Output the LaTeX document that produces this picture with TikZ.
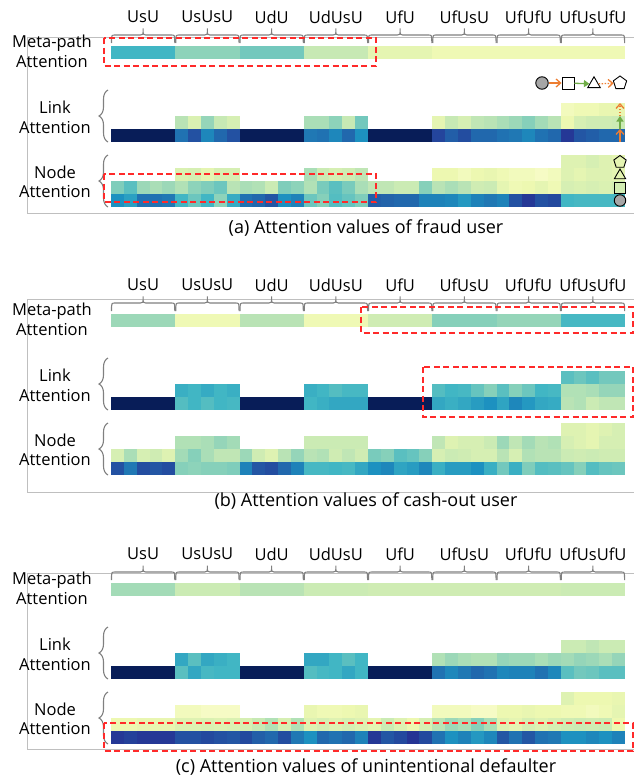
\documentclass[tikz,border=0pt]{standalone}
\usepackage{fontspec}
\setmainfont{Open Sans}
\usetikzlibrary{shapes.geometric, arrows.meta, positioning, calc, decorations.pathreplacing}

\definecolor{yg0}{HTML}{FFFFD9}
\definecolor{yg1}{HTML}{EDF8B1}
\definecolor{yg2}{HTML}{C7E9B4}
\definecolor{yg3}{HTML}{7FCDBB}
\definecolor{yg4}{HTML}{41B6C4}
\definecolor{yg5}{HTML}{1D91C0}
\definecolor{yg6}{HTML}{225EA8}
\definecolor{yg7}{HTML}{253494}
\definecolor{yg8}{HTML}{081D58}
\definecolor{legorange}{HTML}{ED7D31}
\definecolor{leggreen}{HTML}{70AD47}
\definecolor{focusred}{HTML}{FF2A2A}

\newcommand{\heatcell}[4]{%
  \pgfmathsetmacro\cellk{int(floor(#4))}%
  \pgfmathsetmacro\cellkk{int(min(\cellk+1,8))}%
  \pgfmathsetmacro\cellp{int(round(100*(1-#4+\cellk)))}%
  \path[fill={yg\cellk!\cellp!yg\cellkk}] (#1,#2) rectangle ++(#3,13);
}
\newcommand{\heatgroup}[3]{%
  \foreach \cellrow [count=\rowi from 0] in {#3} {
    \foreach \cellv [count=\coli from 0] in \cellrow {
      \heatcell{111+#1*64.25+\coli*12.85}{#2-\rowi*13}{12.95}{\cellv}
    }
  }
}
\newcommand{\metabar}[1]{%
  \foreach \cellv [count=\gi from 0] in {#1} {
    \heatcell{111+\gi*64.25}{46}{64.3}{\cellv}
  }
}
\newcommand{\panelframe}[1]{%
  \foreach \lab [count=\gi from 0] in {UsU,UsUsU,UdU,UdUsU,UfU,UfUsU,UfUfU,UfUsUfU} {
    \node[collabel] (#1-col\gi) at (143.1+\gi*64.25,17) {\lab};
    \draw[tickbrace] (111.5+\gi*64.25,43) .. controls (111.5+\gi*64.25,35) .. (115+\gi*64.25,35)
      -- (140.5+\gi*64.25,35) .. controls (143.1+\gi*64.25,35) .. (143.1+\gi*64.25,28.5)
      .. controls (143.1+\gi*64.25,35) .. (145.7+\gi*64.25,35)
      -- (171.3+\gi*64.25,35) .. controls (174.8+\gi*64.25,35) .. (174.8+\gi*64.25,43);
  }
  \node[rowlabel] (#1-meta) at (52,51.5) {Meta-path\\Attention};
  \node[rowlabel] (#1-link) at (55,117.5) {Link\\Attention};
  \node[rowlabel] (#1-node) at (55,182) {Node\\Attention};
  \draw[sidebrace] (108,142) -- (108,90);
  \draw[sidebrace] (108,207) -- (108,155);
}

\begin{document}
\begin{tikzpicture}[
    x=1pt, y=-1pt,
    >={Stealth},
    collabel/.style={inner sep=0pt, font=\fontsize{16.5}{19.5}\selectfont},
    rowlabel/.style={inner sep=0pt, align=center, font=\fontsize{16.5}{19.5}\selectfont},
    caption/.style={inner sep=0pt, font=\fontsize{18}{21}\selectfont},
    frameline/.style={draw=black!25, line width=0.8pt},
    tickbrace/.style={draw=black!50, line width=1.1pt},
    sidebrace/.style={draw=black!50, line width=1.1pt, decorate, decoration={brace, amplitude=9pt, aspect=0.5}},
    focus/.style={draw=focusred, line width=1.2pt, dash pattern=on 6pt off 3.5pt},
    legsym/.style={draw=black, line width=0.9pt, inner sep=0pt},
    legcirc/.style={legsym, circle, fill=black!35, minimum size=12.5pt},
    legsq/.style={legsym, rectangle, minimum size=12pt},
    legtri/.style={legsym, regular polygon, regular polygon sides=3, minimum size=14.5pt},
    legpent/.style={legsym, regular polygon, regular polygon sides=5, minimum size=14pt},
    orangearrow/.style={-{Straight Barb[length=4.5pt,width=8pt]}, line width=1.3pt, legorange},
    greenarrow/.style={-{Triangle[length=5.5pt,width=7pt]}, line width=1.3pt, leggreen},
    dottedarrow/.style={orangearrow, dash pattern=on 1.5pt off 1.5pt}
  ]
  \useasboundingbox (0,0) rectangle (634,779);

  \begin{scope}
    \draw[frameline] (634,37) -- (27,37) -- (27,213) -- (634,213);
    \panelframe{a}
    \metabar{4.0,2.8,3.2,2.0,1.2,0.9,0.9,0.9}
    \heatgroup{0}{129}{{8,8,8,8,8}}
    \heatgroup{1}{129}{{5.6,6.3,5.2,5.8,6.3},{2.2,1.5,2.7,2.0,1.6}}
    \heatgroup{2}{129}{{8,8,8,8,8}}
    \heatgroup{3}{129}{{5.5,5.6,5.2,5.8,5.0},{2.4,2.4,2.8,2.0,3.2}}
    \heatgroup{4}{129}{{8,8,8,8,8}}
    \heatgroup{5}{129}{{6.6,6.0,6.4,5.8,5.8},{1.2,2.0,1.6,2.1,2.2}}
    \heatgroup{6}{129}{{5.6,5.5,5.2,5.6,5.8},{2.4,2.6,2.9,2.5,2.2}}
    \heatgroup{7}{129}{{6.9,6.2,6.0,5.8,5.8},{1.0,1.6,1.8,1.8,1.9},{0.7,0.9,0.9,1.1,1.1}}
    \heatgroup{0}{194}{{5.0,4.6,5.6,5.6,5.5},{3.0,3.6,2.6,2.4,2.6}}
    \heatgroup{1}{194}{{4.0,3.3,4.0,2.8,4.3},{2.3,2.8,3.0,3.3,2.2},{1.5,1.6,1.2,1.6,1.6}}
    \heatgroup{2}{194}{{5.6,5.8,6.2,5.0,5.3},{2.4,2.3,1.9,3.0,2.8}}
    \heatgroup{3}{194}{{3.3,2.9,3.7,3.4,3.0},{2.3,3.1,3.6,3.1,2.4},{2.4,1.9,1.6,1.8,2.1}}
    \heatgroup{4}{194}{{6.0,5.9,5.8,5.8,5.3},{2.1,2.1,1.9,1.9,2.9}}
    \heatgroup{5}{194}{{5.3,5.2,4.8,5.3,5.5},{2.2,2.4,2.2,1.8,1.9},{1.0,1.0,0.7,1.0,1.1}}
    \heatgroup{6}{194}{{5.3,6.3,6.9,6.3,6.5},{1.2,0.9,1.0,1.2,0.9},{0.9,0.7,0.7,0.5,0.7}}
    \heatgroup{7}{194}{{4.0,3.9,3.9,3.9,3.9},{1.6,1.5,1.6,1.5,1.7},{1.4,1.2,1.4,1.4,1.2},{1.4,1.4,1.6,1.4,1.2}}
    \draw[focus] (104,38) rectangle (376,66);
    \draw[focus] (104,174) rectangle (376,202);
    \node[legcirc] (legc) at (542,83) {};
    \node[legsq] (legs) at (568,83) {};
    \node[legtri] (legt) at (594,84) {};
    \node[legpent] (legp) at (620,83) {};
    \draw[orangearrow] (legc) -- (legs);
    \draw[greenarrow] (legs) -- (legt);
    \draw[dottedarrow] (legt) -- (legp);
    \coordinate (arr0) at (620,142);
    \coordinate (arr1) at (620,129);
    \coordinate (arr2) at (620,116);
    \coordinate (arr3) at (620,103);
    \draw[orangearrow] (arr0) -- (arr1);
    \draw[greenarrow] (arr1) -- (arr2);
    \draw[dottedarrow] (arr2) -- (arr3);
    \node[legcirc, minimum size=11.5pt] (symc) at (620,200.5) {};
    \node[legsq, minimum size=11pt] (syms) at (620,187.5) {};
    \node[legtri, minimum size=13pt] (symt) at (620,175.5) {};
    \node[legpent, minimum size=13pt] (symp) at (620,162) {};
    \node[caption] (capa) at (366,228) {(a) Attention values of fraud user};
  \end{scope}

  \begin{scope}[shift={(0,268)}]
    \draw[frameline] (634,31) -- (27,31) -- (27,224) -- (634,224);
    \panelframe{b}
    \metabar{2.6,0.9,2.2,0.9,1.8,2.9,2.7,3.9}
    \heatgroup{0}{129}{{8,8,8,8,8}}
    \heatgroup{1}{129}{{3.7,4.0,3.7,4.0,3.9},{4.2,4.0,4.3,4.0,4.2}}
    \heatgroup{2}{129}{{8,8,8,8,8}}
    \heatgroup{3}{129}{{4.0,4.2,4.4,4.4,4.4},{4.2,4.0,3.7,3.9,3.9}}
    \heatgroup{4}{129}{{8,8,8,8,8}}
    \heatgroup{5}{129}{{4.4,4.2,4.4,4.7,5.0},{3.7,4.0,3.9,3.4,2.9}}
    \heatgroup{6}{129}{{4.5,5.2,4.8,4.4,4.3},{3.6,2.9,3.3,4.0,3.9}}
    \heatgroup{7}{129}{{2.2,2.3,1.9,2.1,2.1},{2.3,2.3,2.4,2.7,2.7},{3.6,3.3,3.6,3.2,3.2}}
    \heatgroup{0}{194}{{6.3,5.5,6.4,6.2,6.4},{1.6,2.4,1.6,1.8,1.4}}
    \heatgroup{1}{194}{{2.9,2.8,2.9,2.9,3.0},{2.5,2.9,2.4,2.1,2.1},{2.3,2.3,2.4,2.7,2.5}}
    \heatgroup{2}{194}{{5.3,6.2,6.4,5.8,5.3},{2.6,1.8,1.4,2.2,2.7}}
    \heatgroup{3}{194}{{3.9,3.9,4.0,3.9,4.4},{2.2,2.3,1.8,2.1,1.8},{1.9,1.9,1.9,1.9,1.9}}
    \heatgroup{4}{194}{{5.0,5.2,4.5,4.7,5.2},{3.1,2.9,3.6,3.4,2.9}}
    \heatgroup{5}{194}{{4.2,4.7,4.7,5.0,4.2},{1.6,1.9,1.8,1.6,1.6},{2.1,1.4,1.6,1.6,1.9}}
    \heatgroup{6}{194}{{3.2,4.2,3.0,3.7,3.6},{2.2,1.6,2.3,2.2,2.2},{2.6,2.1,2.5,2.2,2.3}}
    \heatgroup{7}{194}{{3.4,2.9,3.7,3.4,3.3},{1.9,1.8,1.9,1.8,1.8},{1.6,1.4,1.2,1.6,1.6},{1.4,1.4,1.2,1.4,1.6}}
    \draw[focus] (361,39) rectangle (633,65);
    \draw[focus] (423,99) rectangle (633,149);
    \node[caption] (capb) at (366,233) {(b) Attention values of cash-out user};
  \end{scope}

  \begin{scope}[shift={(0,537)}]
    \draw[frameline] (634,36) -- (27,36) -- (27,212) -- (634,212);
    \panelframe{c}
    \metabar{2.5,1.9,2.2,1.9,1.8,1.8,1.8,1.9}
    \heatgroup{0}{129}{{8,8,8,8,8}}
    \heatgroup{1}{129}{{3.6,4.4,3.9,4.0,4.0},{4.4,3.6,4.4,4.2,4.0}}
    \heatgroup{2}{129}{{8,8,8,8,8}}
    \heatgroup{3}{129}{{3.7,3.9,4.0,4.4,4.0},{4.4,4.4,4.0,3.6,4.0}}
    \heatgroup{4}{129}{{8,8,8,8,8}}
    \heatgroup{5}{129}{{5.6,5.2,5.5,5.8,5.6},{2.3,2.6,2.4,2.3,2.3}}
    \heatgroup{6}{129}{{5.2,5.3,5.3,5.6,5.2},{2.7,2.6,2.6,2.4,2.6}}
    \heatgroup{7}{129}{{3.6,3.2,3.3,3.6,3.6},{2.5,2.7,2.6,2.4,2.7},{1.9,1.9,2.1,1.9,1.9}}
    \heatgroup{0}{194}{{6.9,6.7,6.9,6.9,6.9},{1.0,1.0,1.1,1.1,1.1}}
    \heatgroup{1}{194}{{6.3,6.3,6.5,6.3,6.2},{1.4,1.4,1.5,1.4,1.5},{0.7,0.7,0.5,0.5,0.5}}
    \heatgroup{2}{194}{{6.5,6.0,5.8,6.4,5.5},{1.6,2.0,2.3,1.6,2.3}}
    \heatgroup{3}{194}{{5.0,5.8,5.6,5.8,5.3},{1.4,1.6,1.4,1.6,1.4},{1.1,0.9,0.9,1.0,1.1}}
    \heatgroup{4}{194}{{6.9,6.2,6.5,7.0,6.5},{1.2,1.9,1.4,1.0,1.6}}
    \heatgroup{5}{194}{{5.6,5.0,5.3,4.8,5.2},{2.2,2.6,2.4,2.9,2.4},{0.7,0.7,0.7,0.5,0.5}}
    \heatgroup{6}{194}{{6.2,5.6,6.2,5.6,5.5},{1.4,1.2,1.6,1.4,1.6},{1.0,1.0,1.1,1.0,1.0}}
    \heatgroup{7}{194}{{5.0,5.0,5.2,5.0,5.3},{1.8,1.9,1.8,1.9,1.0},{0.9,0.9,0.7,0.9,1.2},{1.4,1.0,1.0,1.0,1.1}}
    \draw[focus] (104,186) rectangle (633,214);
    \node[caption] (capc) at (366,230) {(c) Attention values of unintentional defaulter};
  \end{scope}
\end{tikzpicture}
\end{document}
